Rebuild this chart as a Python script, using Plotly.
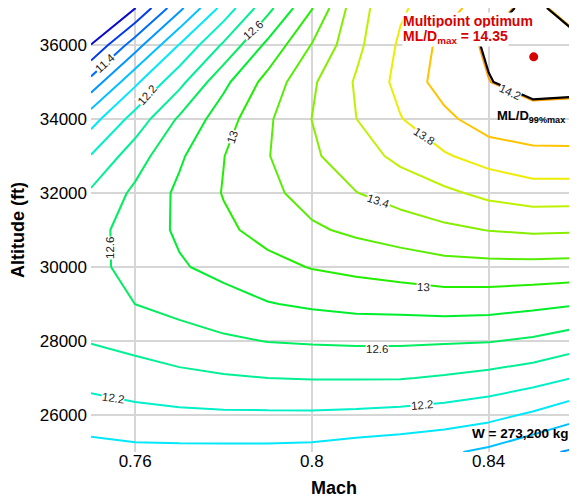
import plotly.graph_objects as go

# ---------------- data ----------------
mach = [0.75, 0.76, 0.77, 0.78, 0.79, 0.80, 0.81, 0.82, 0.83, 0.84, 0.85, 0.86]
altitude_ft = [25000, 26000, 27000, 28000, 29000, 30000, 31000,
               32000, 33000, 34000, 35000, 36000, 37000]

# ML/D, one list per Mach value, altitude 37000 -> 25000 ft
mld_m075 = [10.60, 11.005, 11.47, 11.92, 12.21, 12.43, 12.53, 12.55, 12.48, 12.41, 12.27, 12.10, 11.93]
mld_m076 = [10.995, 11.51, 11.96, 12.28, 12.51, 12.64, 12.69, 12.66, 12.601, 12.46, 12.31, 12.14, 11.95]
mld_m077 = [11.55, 12.01, 12.34, 12.63, 12.77, 12.84, 12.83, 12.78, 12.66, 12.52, 12.35, 12.16, 11.95]
mld_m078 = [12.07, 12.43, 12.75, 12.91, 12.995, 13.01, 12.96, 12.86, 12.72, 12.57, 12.38, 12.17, 11.95]
mld_m079 = [12.54, 12.85, 13.07, 13.17, 13.19, 13.15, 13.07, 12.94, 12.79, 12.605, 12.40, 12.17, 11.95]
mld_m080 = [12.99, 13.21, 13.37, 13.402, 13.37, 13.28, 13.17, 13.01, 12.83, 12.62, 12.41, 12.17, 11.94]
mld_m081 = [13.52, 13.55, 13.62, 13.598, 13.51, 13.395, 13.24, 13.05, 12.86, 12.63, 12.41, 12.16, 11.90]
mld_m082 = [13.77, 13.83, 13.86, 13.79, 13.65, 13.48, 13.30, 13.09, 12.87, 12.63, 12.41, 12.14, 11.87]
mld_m083 = [13.93, 14.06, 14.09, 13.95, 13.78, 13.56, 13.36, 13.13, 12.89, 12.62, 12.38, 12.11, 11.83]
mld_m084 = [14.10, 14.24, 14.195, 14.11, 13.88, 13.65, 13.405, 13.14, 12.88, 12.61, 12.34, 12.06, 11.76]
mld_m085 = [14.28, 14.33, 14.30, 14.10, 13.96, 13.70, 13.43, 13.14, 12.85, 12.57, 12.28, 11.97, 11.65]
mld_m086 = [14.05, 14.28, 14.27, 14.11, 13.96, 13.70, 13.42, 13.13, 12.81, 12.49, 12.19, 11.85, 11.57]

mld_columns = [mld_m075, mld_m076, mld_m077, mld_m078, mld_m079, mld_m080,
               mld_m081, mld_m082, mld_m083, mld_m084, mld_m085, mld_m086]

level_start = 11.0
level_end = 14.2
level_step = 0.2

mld_max = 14.35
opt_mach = [0.8502]
opt_alt = [35680]

weight_text = "W = 273,200 kg"
x_tick_vals = [0.76, 0.80, 0.84]
x_tick_text = ["0.76", "0.8", "0.84"]
y_tick_vals = [26000, 28000, 30000, 32000, 34000, 36000]

# ---------------- styles ----------------
level_colors = [
    "rgb(10,10,205)", "rgb(0,60,235)", "rgb(0,110,245)", "rgb(0,150,255)",
    "rgb(0,192,255)", "rgb(0,232,250)", "rgb(0,240,200)", "rgb(0,240,150)",
    "rgb(0,238,95)", "rgb(0,238,45)", "rgb(35,238,0)", "rgb(85,238,0)",
    "rgb(135,238,0)", "rgb(190,242,0)", "rgb(238,236,0)", "rgb(255,196,0)",
    "rgb(255,160,0)",
]
n = len(level_colors)
colorscale = [[i / (n - 1), c] for i, c in enumerate(level_colors)]

# z: rows = altitude ascending, columns = Mach
z = [[col[len(altitude_ft) - 1 - r] for col in mld_columns] for r in range(len(altitude_ft))]

FONT = "Arial, Liberation Sans, Helvetica, sans-serif"

# page body has an 8 px margin: figure is placed at (8, 8) in the window
W, H = 569, 490
ML, MR, MT, MB = 83, 0, 0, 46

fig = go.Figure()
fig.add_trace(go.Contour(
    x=mach, y=altitude_ft, z=z,
    autocontour=False,
    contours=dict(start=level_start, end=level_end, size=level_step,
                  coloring="lines", showlabels=False),
    colorscale=colorscale, showscale=False,
    line=dict(width=2, smoothing=0),
    hoverinfo="skip",
))
# 99% of maximum ML/D contour
lvl99 = 0.99 * mld_max
fig.add_trace(go.Contour(
    x=mach, y=altitude_ft, z=z,
    autocontour=False,
    contours=dict(start=lvl99, end=lvl99, size=1, coloring="lines", showlabels=False),
    colorscale=[[0, "black"], [1, "black"]], showscale=False,
    line=dict(width=2.2, smoothing=0),
    hoverinfo="skip",
))
fig.add_trace(go.Scatter(
    x=opt_mach, y=opt_alt, mode="markers",
    marker=dict(color="rgb(215,0,0)", size=9),
    hoverinfo="skip", showlegend=False,
))

# contour labels (text, Mach, altitude, angle)
contour_labels = [
    ("11.4", 0.7532, 35514, -42),
    ("12.2", 0.7627, 34649, -48),
    ("12.6", 0.7867, 36405, -42),
    ("13", 0.7820, 33514, -72),
    ("12.6", 0.7543, 30514, -90),
    ("12.2", 0.7550, 26459, 8),
    ("13.4", 0.8151, 31784, 18),
    ("13.8", 0.8253, 33541, 33),
    ("14.2", 0.8448, 34730, 25),
    ("13", 0.8253, 29459, 3),
    ("12.6", 0.8148, 27784, 0),
    ("12.2", 0.8250, 26270, -5),
]
annotations = []
for txt, xm, ya, ang in contour_labels:
    annotations.append(dict(
        x=xm, y=ya, xref="x", yref="y", text=txt, showarrow=False,
        textangle=ang, font=dict(family=FONT, size=11.5, color="#222"),
        bgcolor="white", borderpad=0,
    ))

PW = W - ML - MR
PH = H - MT - MB

def px_to_paper(px, py):
    # px, py are window pixels
    fx, fy = px - 8, py - 8
    return (fx - ML) / PW, (MT + PH - fy) / PH

ax, ay = px_to_paper(402, 12)
annotations.append(dict(
    x=ax, y=ay, xref="paper", yref="paper", xanchor="left", yanchor="top",
    text="<b>Multipoint optimum</b>", showarrow=False,
    font=dict(family=FONT, size=14, color="rgb(215,0,0)"),
    bgcolor="white", borderpad=0,
))
ax, ay = px_to_paper(402, 27)
annotations.append(dict(
    x=ax, y=ay, xref="paper", yref="paper", xanchor="left", yanchor="top",
    text="<b>ML/D<sub>max</sub> = %.2f</b>" % mld_max, showarrow=False,
    font=dict(family=FONT, size=14, color="rgb(215,0,0)"),
    bgcolor="white", borderpad=0,
))
ax, ay = px_to_paper(495, 106)
annotations.append(dict(
    x=ax, y=ay, xref="paper", yref="paper", xanchor="left", yanchor="top",
    text="<b>ML/D<sub>99%max</sub></b>", showarrow=False,
    font=dict(family=FONT, size=13, color="black"),
))
ax, ay = px_to_paper(470, 424)
annotations.append(dict(
    x=ax, y=ay, xref="paper", yref="paper", xanchor="left", yanchor="top",
    text="<b>%s</b>" % weight_text, showarrow=False,
    font=dict(family=FONT, size=13.5, color="black"),
))

fig.update_layout(
    width=W, height=H,
    margin=dict(l=ML, r=MR, t=MT, b=MB, pad=0),
    paper_bgcolor="white", plot_bgcolor="white",
    showlegend=False,
    annotations=annotations,
    font=dict(family=FONT, color="black"),
)
fig.update_xaxes(
    range=[0.75, 0.86], tickvals=x_tick_vals, ticktext=x_tick_text,
    showgrid=True, gridcolor="#d6d6d6", gridwidth=2, zeroline=False, showline=False,
    ticks="", ticklabelstandoff=-3, automargin=False,
    tickfont=dict(family=FONT, size=17, color="black"),
    title=dict(text="<b>Mach</b>", font=dict(family=FONT, size=18, color="black"), standoff=11),
)
fig.update_yaxes(
    range=[25000, 37000], tickvals=y_tick_vals, tickformat="d",
    showgrid=True, gridcolor="#d6d6d6", gridwidth=2, zeroline=False, showline=False,
    ticks="", ticklabelstandoff=3, automargin=False,
    tickfont=dict(family=FONT, size=17, color="black"),
    title=dict(text="<b>Altitude (ft)</b>", font=dict(family=FONT, size=18, color="black"), standoff=12),
)

fig.write_html("out.html")
